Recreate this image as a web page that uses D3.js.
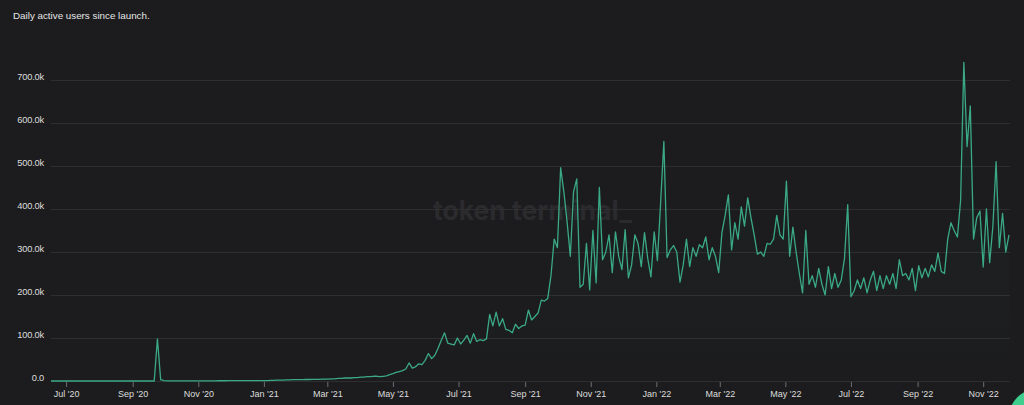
<!DOCTYPE html>
<html>
<head>
<meta charset="utf-8">
<script src="https://cdn.jsdelivr.net/npm/d3@7"></script>
<style>
  html, body { margin: 0; padding: 0; background: #1c1c1e; }
  svg { display: block; }
</style>
</head>
<body>
<svg id="chart" width="1024" height="405"></svg>
<script>
// ===============================
// Dades
// ===============================
const titleText = "Daily active users since launch.";
const startDate = "2020-06-17";
const stepDays = 3;

// usuaris actius diaris (milers), un valor cada 3 dies
const dauK = [
  0, 0, 0, 0, 0, 0, 0, 0, 0, 0, 0, 0, 0, 0, 0, 0, 0, 0, 0, 0,
  0, 0, 0, 0, 0, 0, 0, 0, 0, 0, 0, 0, 0, 98, 3,
  1, 0.5, 0.5, 0.5, 0.5, 0.5, 0.5, 0.5, 0.5, 0.5, 0.5, 0.5, 0.5, 0.5, 0.5, 0.5,
  0.5, 0.6, 0.6, 0.6, 0.7, 0.7, 0.7, 0.8, 0.8, 0.8, 0.9, 0.9, 1, 1, 1,
  1, 1, 1.5, 1.5, 2, 2, 2, 2.5, 2.5, 3, 3, 3, 3, 3.5, 3.5, 4, 4, 4, 4.5, 4.5, 4.5,
  5, 5, 6, 6, 7, 7, 7, 8, 8, 9, 9, 10, 10, 11,
  11, 10, 11, 12,
  15, 17, 20, 22, 24, 28,
  42, 30, 33, 40, 38, 48, 64, 52, 60, 76,
  95, 112, 88, 86, 84, 100, 86, 95, 106, 88,
  110, 92, 96, 94, 98, 155, 128, 160, 128, 145,
  120, 118, 112, 132, 122, 128, 130, 165, 142, 150,
  158, 188, 186, 192, 245, 330, 310, 496, 440, 370,
  290, 440, 470, 218, 225, 320, 212, 350, 228, 450,
  282, 300, 340, 252, 347, 290, 259, 352, 240, 270,
  340, 320, 266, 345, 285, 242, 347, 280, 415, 557,
  287, 305, 315, 300, 230, 270, 330, 266, 310, 290,
  317, 310, 335, 282, 310, 290, 252, 345, 385, 433,
  305, 368, 330, 405, 360, 426, 380, 340, 295, 300,
  290, 320, 318, 330, 385, 340, 330, 465, 290, 358,
  300, 250, 205, 350, 225, 245, 218, 262, 225, 200,
  266, 215, 250, 218, 235, 285, 410, 196, 210, 235,
  215, 240, 205, 235, 255, 210, 245, 215, 245, 225,
  250, 215, 282, 245, 250, 235, 262, 210, 268, 240,
  262, 242, 270, 255, 298, 255, 250, 330, 368, 350,
  335, 420, 741, 545, 640, 330, 380, 395, 265, 400,
  275, 360, 510, 310, 390, 300, 340
];

const yTicks = [0, 100000, 200000, 300000, 400000, 500000, 600000, 700000];

// ===============================
// Muntatge
// ===============================
const parse = d3.timeParse("%Y-%m-%d");
const t0 = parse(startDate);
const series = dauK.map((v, i) => ({
  date: d3.timeDay.offset(t0, i * stepDays),
  value: v * 1000
}));

const svg = d3.select("#chart");
const W = 1024, H = 405;
const mLeft = 51, mRight = 1009, mTop = 80, mBottom = 381;

svg.append("rect").attr("width", W).attr("height", H).attr("fill", "#1c1c1e");

const x = d3.scaleTime()
  .domain(d3.extent(series, d => d.date))
  .range([mLeft, mRight]);

const y = d3.scaleLinear()
  .domain([0, 700000])
  .range([mBottom, mTop]);

// títol
svg.append("text")
  .attr("x", 13)
  .attr("y", 19)
  .text(titleText)
  .style("font-family", "'Liberation Sans', Arial, sans-serif")
  .style("font-size", "9.8px")
  .style("fill", "#e6e6e6");

// marca d'aigua
svg.append("text")
  .attr("x", 433)
  .attr("y", 219.5)
  .text("token terminal_")
  .style("font-family", "Inter, sans-serif")
  .style("font-weight", "700")
  .style("font-size", "26.5px")
  .style("fill", "#2b2b2e");

// =========================
// Graella + eix Y
// =========================
const yAxis = svg.append("g")
  .attr("transform", `translate(${mLeft},0)`)
  .call(d3.axisLeft(y)
    .tickValues(yTicks)
    .tickSize(-(1010 - mLeft))
    .tickPadding(7)
    .tickFormat(d => d === 0 ? "0.0" : d3.format(".1f")(d / 1000) + "k"));

yAxis.select(".domain").remove();
yAxis.selectAll(".tick line")
  .attr("stroke", "#2e2e31")
  .attr("stroke-width", 1);
yAxis.selectAll(".tick text")
  .attr("dy", "-0.1em")
  .style("font-family", "'Liberation Sans', Arial, sans-serif")
  .style("font-size", "9.3px")
  .style("letter-spacing", "-0.2px")
  .style("fill", "#dcdcdc");

// =========================
// Eix X
// =========================
const xAxis = svg.append("g")
  .attr("transform", `translate(0,${mBottom})`)
  .call(d3.axisBottom(x)
    .ticks(d3.timeMonth.every(2))
    .tickSize(6)
    .tickPadding(4)
    .tickFormat(d3.timeFormat("%b '%y")));

xAxis.select(".domain").remove();
xAxis.selectAll(".tick line")
  .attr("stroke", "#6e6e72")
  .attr("y1", 1);
xAxis.selectAll(".tick text")
  .style("font-family", "'Liberation Sans', Arial, sans-serif")
  .style("font-size", "9px")
  .style("fill", "#dcdcdc");

// =========================
// Àrea i línia
// =========================
const defs = svg.append("defs");
const grad = defs.append("linearGradient")
  .attr("id", "fillGrad")
  .attr("x1", 0).attr("y1", 0).attr("x2", 0).attr("y2", 1);
grad.append("stop").attr("offset", "0%").attr("stop-color", "#3aa984").attr("stop-opacity", 0.06);
grad.append("stop").attr("offset", "100%").attr("stop-color", "#3aa984").attr("stop-opacity", 0.0);

svg.append("path")
  .datum(series)
  .attr("fill", "url(#fillGrad)")
  .attr("d", d3.area()
    .x(d => x(d.date))
    .y0(mBottom)
    .y1(d => y(d.value)));

svg.append("path")
  .datum(series)
  .attr("fill", "none")
  .attr("stroke", "#3aa984")
  .attr("stroke-width", 1.3)
  .attr("stroke-linejoin", "round")
  .attr("d", d3.line()
    .x(d => x(d.date))
    .y(d => y(d.value)));

// botó de xat (cantonada)
svg.append("circle")
  .attr("cx", 1040)
  .attr("cy", 420)
  .attr("r", 32)
  .attr("fill", "#3ecf8e");
</script>
</body>
</html>
